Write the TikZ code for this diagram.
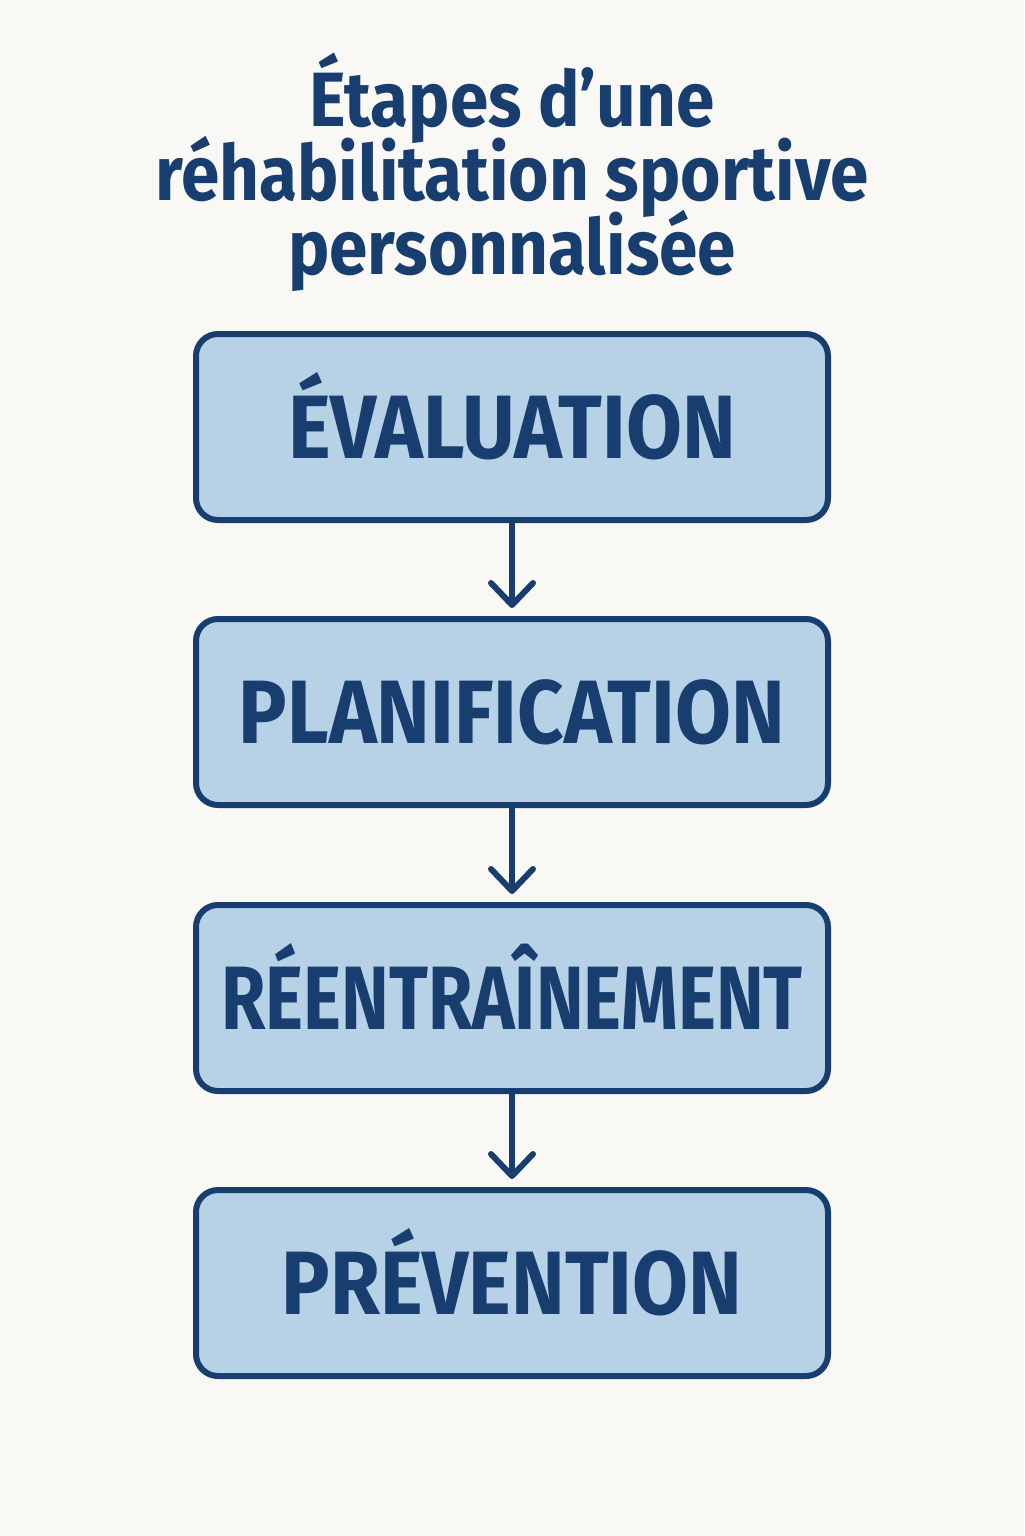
\documentclass[tikz,border=0pt]{standalone}
\usepackage{fontspec}
\setmainfont{Fira Sans}
\newfontfamily\stagefont{Fira Sans}[FakeStretch=0.9]
\newfontfamily\narrowfont{Fira Sans}[FakeStretch=0.8]
\usetikzlibrary{arrows.meta, positioning}
\definecolor{navy}{RGB}{24,62,112}
\definecolor{paleblue}{RGB}{183,210,230}
\definecolor{paper}{RGB}{250,248,244}
\newcommand{\tightlines}{\setlength{\lineskiplimit}{-20pt}}

\begin{document}
\begin{tikzpicture}[
        x=0.5pt, y=-0.5pt,
        stage/.style={rectangle, draw=navy, line width=3pt, fill=paleblue, minimum width=316pt, minimum height=93pt, rounded corners=11pt, inner sep=0pt, text=navy, font=\stagefont\bfseries\fontsize{45}{45}\selectfont, text height=31pt, text depth=0pt},
        flow/.style={-{Straight Barb[length=11pt, width=21pt, round]}, line width=3pt, draw=navy, shorten >=4pt},
        heading/.style={align=center, text=navy, inner sep=0pt, font=\stagefont\bfseries\fontsize{38.5}{37}\selectfont\tightlines}
    ]
        \fill[paper] (0,0) rectangle (1024,1536);
        \useasboundingbox (0,0) rectangle (1024,1536);
        \node[heading] (title) at (512, 172) {Étapes d’une\\réhabilitation sportive\\personnalisée};
        \node[stage] (eval) at (512, 427) {ÉVALUATION};
        \node[stage] (plan) at (512, 712) {PLANIFICATION};
        \node[stage, font=\narrowfont\bfseries\fontsize{45}{45}\selectfont] (reent) at (512, 998) {RÉENTRAÎNEMENT};
        \node[stage] (prev) at (512, 1283) {PRÉVENTION};
        \draw[flow] (eval.south) -- (plan.north);
        \draw[flow] (plan.south) -- (reent.north);
        \draw[flow] (reent.south) -- (prev.north);
    \end{tikzpicture}
\end{document}
